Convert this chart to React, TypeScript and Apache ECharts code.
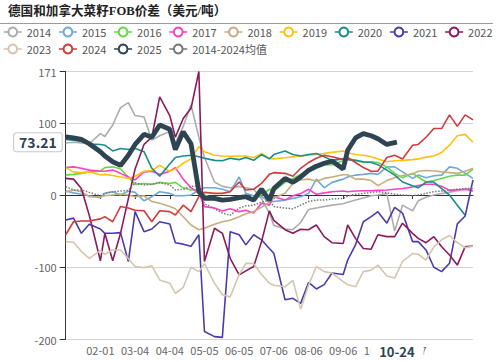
import { useEffect, useRef } from 'react';
import * as echarts from 'echarts';

const TITLE = '德国和加拿大菜籽FOB价差（美元/吨）';

// categories: every day of a (non-leap) year, MM-DD
const MONTH_LENGTHS = [31, 28, 31, 30, 31, 30, 31, 31, 30, 31, 30, 31];
const DAYS: string[] = [];
MONTH_LENGTHS.forEach((n, m) => {
  for (let d = 1; d <= n; d++) DAYS.push(String(m + 1).padStart(2, '0') + '-' + String(d).padStart(2, '0'));
});

// day-of-year index of each weekly observation
const SAMPLE_DAYS = [0, 7, 14, 21, 31, 35, 42, 49, 56, 62, 70, 77, 84, 93, 98, 105, 112, 119, 124, 133, 140, 147, 155, 161, 168, 175, 182, 186, 196, 203, 210, 217, 224, 231, 238, 248, 252, 259, 266, 273, 279, 287, 294, 301, 310, 315, 322, 329, 336, 343, 350, 357, 364];

const S2014 = [72, 73, 72, 71, 85, 81, 97, 121, 128, 110, 108, 76, 82, 88, 72, 95, 125, 80, 52, 18, 12, 10, 12, 10, 8, -5, -25, -42, -47, -48, -38, -20, -18, -16, -14, -12, -10, -7, -4, -1, 0, 2, -50, -14, -22, -8, -3, 0, 2, 4, 6, 8, 9];
const S2015 = [5.5, 3, 1, -1, -3.7, 2.3, 4.6, 0, 5.5, 3.7, -8, -2.3, 4.6, 2.3, -1, -1, 0, 7, 10, 10, 8, 4.6, 25, 2.3, -1, -2.3, -9, -9, -7, -4.6, -2.3, 2.3, 22, 10, 17.5, 22, 25, 27.6, 28.6, 30, 28.6, 38.7, 39, 32, 23, 27.6, 24, 26.7, 27.6, 39, 37, 30, 23];
const S2016 = [27.6, 28.6, 30, 32, 33, 38, 39, 36, 25, 14.7, 16, 14.7, 17.5, 16, 17.5, 10, 7, 8, 0, -5.5, -7, -4.6, -3.7, -1, -4.6, 0, 8, 5.5, 17.5, 23, 28.6, 32, 37, 41.5, 42, 47.5, 50, 48, 45, 46, 45, 39, 30, 24, 30, 25, 18, 20, 23, 26, 27.6, 27.6, 36];
const S2017 = [38, 39, 37, 34.5, 33, 33, 34.5, 30, 25, 21, 32, 33, 28.6, 33, 38, 22, 10, 3, -16, -18, -22, -19, -23, -21, -25, -11.5, -14, -2.3, -7, -1, 2, 8, 1, 3, 4.6, 5.5, 4.6, 5.5, 6, 6, 6.5, 7, 8, 9, 11, 13, 15, 15, 12, 6.5, 7.4, 8, 5.5];
const S2018 = [4.6, 7, 4.6, -2.3, -2.3, -1, 0, 1, 0, -2.3, -1, -9, -11.5, -16, -19, -30, -41.5, -48, -46, -40.5, -37, -35, -30, -26, -23, -17, -10, -4, 2.3, 16, 21, 22, 19, 23, 25, 28, 28, 22, 22, 20, 13, 20, 24, 27, 29, 33, 34, 33.6, 32, 31, 30, 33, 37];
const S2019 = [38, 32, 31, 32, 28, 28.6, 27, 25, 23, 26, 33, 34, 41, 33, 36, 44, 50, 67, 60, 55, 54, 53.5, 54, 54, 51.6, 57.6, 50.7, 50, 51.6, 53, 54, 55, 56, 57.6, 59, 61, 58.5, 56, 55, 53, 50, 46, 47.5, 48, 49, 50, 52.5, 54, 59, 69, 82, 84, 73];
const S2020 = [77, 76, 74, 70.5, 70, 69, 61, 64.5, 63, 64.5, 60, 37, 26, 43, 52, 54, 55, 53, 51, 48, 47.5, 51, 49, 52, 48, 56, 50, 56, 61, 56, 54, 56, 57.6, 53, 48, 50, 49, 48, 46, 45, 42, 34.5, 27.6, 18, 13, 10, 18, 18, 9, 0, -14, -28, null];
const S2021 = [-34.5, -32, -53, -40.5, -47, -53, -53, -52, -92, -23, -50.7, -47, -37, -40, -66, -68, -71, -55, -189, -196, -197, -50.7, -55, -69, -55, -62, -74, -80.6, -145, -143, -150, -121, -130, -124, -108, -110, -90, -69, -37, -30, -23, -39, -17, -25, -64.5, -64.5, -76, -100, -106, -94.5, -40, -29, 21];
const S2022 = [23, 22, 9, -27.6, -91, -53, -91, -53, -5, 36, 70, 80, 136, 110, 80, 106, 120, 171, -92, -46, -53, -87.6, -110.6, -105, -99, -64.5, -22, -35, -48, -53, -47.5, -48, -41.5, -57.6, -66, -67, -41.5, -60, -74, -75, -55, -57.6, -57.6, -39, -53, -60, -66, -57.6, -71.5, -83, -97, -71.5, -70.5];
const S2023 = [-64.5, -65.4, -78, -87.6, -77, -82, -76, -76, -88, -99, -100.5, -98, -117.5, -122, -136, -128, -100, -106, -95, -122, -138, -141, -110, -94.5, -95, -110, -122, -125, -127, -118, -158, -125, -99, -106, -108, -120, -124, -127, -106, -104, -97, -112, -115, -92, -81, -82, -90, -72, -62, -56, -66, -73, -71];
const S2024 = [-55, -37, -36, -36, -33, -30, -37, -16, -18, -21, -21.7, -37, -21.7, -23, -27.6, -14, -23, -2.3, 3.7, 2.3, 2.3, 4.6, 18, 7, 8, 16, 28.6, 31, 30, 26, 37, 45, 51, 55, 53, 49, 52, 45, 38, 33, 33, 52, 55, 50, 69, 70, 80, 92, 92, 111, 95, 111, 104];
const S2025 = [80.6, 79, 77, 71, 60, 54, 46, 41, 55, 70, 84, 80, 97, 91, 63, 87.5, 71, 5, -4.6, -4.6, -7, -6, -3.7, -2.3, -7, 8, -7, 9, 23, 17.5, 25, 34, 40, 44, 47, 36, 62, 79, 85, 82, 78, 70];
const SAVG = [11.5, 7, 7, 3.7, -1, 2.3, 4.6, 5.5, 6.5, 17, 14, 15, 17, 14, 7, 8, 12, 13, -12, -19, -25, -28, -18, -15, -14, -10, -7, -16, -18, -19, -14, -9, -7, -7, -5.5, -4.6, -1.4, 1, 2.3, 3.7, 4.6, 3, 1, 0, -1, 0, 2.3, 4.6, 5.5, 7, 8, 9, 9];

// latest 2025 observation
const LATEST_DAY = 296;
const LATEST_VALUE = 73.21;

const NAMES = ['2014', '2015', '2016', '2017', '2018', '2019', '2020', '2021', '2022', '2023', '2024', '2025', '2014-2024均值'];
const COLORS = ['#adadad', '#6fa8dc', '#66d64a', '#ff3fc4', '#c4b07e', '#ffc20e', '#1a8c8c', '#4b3cae', '#8b1a5e', '#d5c6ae', '#d13b3b', '#2e4452', '#777777'];
const VALUES = [S2014, S2015, S2016, S2017, S2018, S2019, S2020, S2021, S2022, S2023, S2024, S2025, SAVG];

const FONT = "'Noto Sans CJK SC', 'Liberation Sans', sans-serif";

function toDaily(vals: (number | null)[], isLatest: boolean) {
  const arr: (number | null)[] = new Array(DAYS.length).fill(null);
  vals.forEach((v, i) => {
    if (v !== null) arr[SAMPLE_DAYS[i]] = v;
  });
  if (isLatest) arr[LATEST_DAY] = LATEST_VALUE;
  return arr;
}

const labelInterval = (i: number) => i >= 31 && i <= 310 && i % 31 === 0;
const tickInterval = (i: number) => i <= 310 && i % 31 === 0;

function buildOption(): any {
  const series = NAMES.map((name, i) => {
    const is2025 = name === '2025';
    const isAvg = i === NAMES.length - 1;
    return {
      type: 'line',
      name,
      data: toDaily(VALUES[i], is2025),
      xAxisIndex: 0,
      yAxisIndex: 0,
      connectNulls: true,
      symbol: 'emptyCircle',
      symbolSize: 5,
      showSymbol: !is2025,
      z: is2025 ? 5 : isAvg ? 3 : 2,
      lineStyle: {
        color: COLORS[i],
        width: is2025 ? 4.8 : isAvg ? 1.5 : 1.6,
        type: isAvg ? 'dotted' : 'solid',
      },
      itemStyle: { color: COLORS[i], borderWidth: 1 },
      emphasis: { disabled: true },
    };
  });

  const legendBase = {
    left: 3,
    width: 499,
    padding: 0,
    itemWidth: 18,
    itemHeight: 11,
    itemGap: 7,
    textStyle: { fontSize: 11, color: '#555', fontFamily: FONT },
    lineStyle: { width: 1.5, type: 'solid' },
  };

  return {
    animation: false,
    backgroundColor: '#ffffff',
    title: {
      text: TITLE,
      left: 8,
      top: 5,
      padding: 0,
      textStyle: { fontSize: 12.6, fontWeight: 'bold', color: '#222', fontFamily: "'Liberation Serif', 'Noto Sans CJK SC', serif" },
    },
    graphic: [
      { type: 'line', silent: true, shape: { x1: 0, y1: 23.5, x2: 493, y2: 23.5 }, style: { stroke: '#9a9a9a', lineWidth: 1 } },
    ],
    legend: [
      { ...legendBase, top: 26.5, data: NAMES.slice(0, 9) },
      { ...legendBase, top: 43.5, data: NAMES.slice(9) },
    ],
    grid: { left: 65.7, right: 29, top: 71.5, bottom: 22.5, containLabel: false },
    xAxis: [
      {
        type: 'category',
        data: DAYS,
        boundaryGap: false,
        position: 'bottom',
        axisLine: { show: true, onZero: true, lineStyle: { color: '#333' } },
        axisTick: { show: true, interval: tickInterval, length: 4, lineStyle: { color: '#333' } },
        axisLabel: { show: false, interval: tickInterval },
        splitLine: { show: false },
      },
      {
        type: 'category',
        data: DAYS,
        boundaryGap: false,
        position: 'bottom',
        axisLine: { show: false, onZero: false },
        axisTick: { show: false },
        axisLabel: { interval: labelInterval, color: '#666', fontSize: 11, margin: 5, fontFamily: FONT },
        splitLine: { show: false },
        axisPointer: {
          show: true,
          type: 'line',
          value: LATEST_DAY,
          status: 'show',
          triggerTooltip: false,
          lineStyle: { opacity: 0 },
          label: {
            show: true,
            formatter: () => DAYS[LATEST_DAY],
            backgroundColor: '#fff',
            color: '#2e4452',
            fontWeight: 'bold',
            fontSize: 13,
            padding: [2, 9],
            margin: 3,
            fontFamily: FONT,
          },
        },
      },
    ],
    yAxis: {
      type: 'value',
      min: -200,
      max: 171,
      interval: 100,
      axisLine: { show: true, lineStyle: { color: '#333' } },
      axisTick: { show: true, length: 6, lineStyle: { color: '#333' } },
      axisLabel: { color: '#666', fontSize: 11, margin: 9, fontFamily: FONT },
      splitLine: { show: true, lineStyle: { color: '#d4d4d4' } },
      axisPointer: {
        show: true,
        type: 'line',
        value: LATEST_VALUE,
        status: 'show',
        triggerTooltip: false,
        lineStyle: { opacity: 0 },
        label: {
          show: true,
          formatter: () => LATEST_VALUE.toFixed(2),
          backgroundColor: '#fff',
          borderColor: '#c8c8c8',
          borderWidth: 1,
          borderRadius: 2,
          color: '#2e4452',
          fontWeight: 'bold',
          fontSize: 14,
          padding: [2, 5],
          margin: 4,
          fontFamily: FONT,
        },
      },
    },
    series,
  };
}

export default function App() {
  const ref = useRef<HTMLDivElement>(null);
  useEffect(() => {
    document.body.style.margin = '0';
    const chart = echarts.init(ref.current!, undefined, { renderer: 'svg' });
    chart.setOption(buildOption());
    return () => chart.dispose();
  }, []);
  return <div ref={ref} style={{ width: 502, height: 362, position: 'fixed', left: 0, top: 0, background: '#fff' }} />;
}
